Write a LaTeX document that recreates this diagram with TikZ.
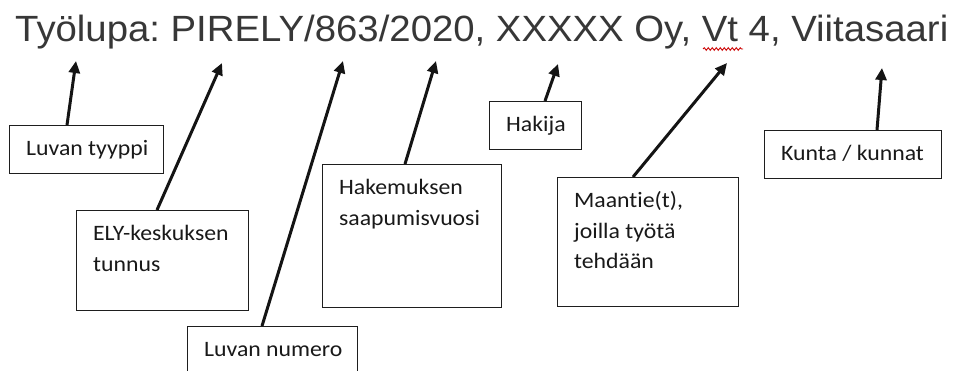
\documentclass[tikz,border=0pt]{standalone}
\usepackage{fontspec}
\setmainfont{Carlito}[Ligatures=NoCommon, FakeStretch=1.08]
\newfontfamily\titlefont{Liberation Sans}[FakeStretch=1.05]
\usetikzlibrary{arrows.meta,calc,decorations.pathmorphing}
\definecolor{titlegray}{RGB}{55,55,55}
\definecolor{boxline}{RGB}{30,30,30}
\newcommand{\boxtext}[3]{\parbox[t][#1][t]{#2}{\raggedright\leftskip=16.5pt\fontsize{22}{30.5}\selectfont\rule{0pt}{30pt}#3\par}}
\tikzset{
  infobox/.style={draw=boxline, line width=1.3pt, inner sep=0pt, anchor=north west, text=black!90},
  pointer/.style={line width=3pt, -{Triangle[length=12pt,width=11pt]}, black!92},
}
\begin{document}
\frenchspacing
\begin{tikzpicture}[x=1pt,y=-1pt]
\clip (0,0) rectangle (953,371);
\fill[white] (0,0) rectangle (953,371);
\node[anchor=base west, inner sep=0pt, text=titlegray, font=\titlefont\fontsize{36.5}{40}\selectfont] (title) at (15,42) {Työlupa: PIRELY/863/2020, XXXXX Oy, Vt 4, Viitasaari};
\draw[red!80!black, line width=0.9pt, decorate, decoration={snake, amplitude=1.3pt, segment length=4pt}] (703,49) -- (743,49);

\node[infobox] (ty) at (9,125) {\boxtext{48pt}{154pt}{Luvan tyyppi}};
\node[infobox] (ely) at (76,210) {\boxtext{100pt}{172pt}{ELY-keskuksen\\tunnus}};
\node[infobox] (num) at (187,326) {\boxtext{80pt}{170pt}{Luvan numero}};
\node[infobox] (hak) at (322,164) {\boxtext{143pt}{179pt}{Hakemuksen\\saapumisvuosi}};
\node[infobox] (hk) at (489,101) {\boxtext{48pt}{92pt}{Hakija}};
\node[infobox] (mt) at (557,177) {\boxtext{129pt}{181pt}{Maantie(t),\\joilla työtä\\tehdään}};
\node[infobox] (ku) at (764,130) {\boxtext{48pt}{177pt}{Kunta / kunnat}};

\coordinate (t1) at (76,61);
\coordinate (t2) at (222,63);
\coordinate (t3) at (343,61);
\coordinate (t4) at (436,61);
\coordinate (t5) at (558,64);
\coordinate (t6) at (727,63);
\coordinate (t7) at (882,68);

\draw[pointer] ($(ty.north west)+(58,0)$) -- (t1);
\draw[pointer] ($(ely.north west)+(81,0)$) -- (t2);
\draw[pointer] ($(num.north west)+(75,0)$) -- (t3);
\draw[pointer] ($(hak.north west)+(83,0)$) -- (t4);
\draw[pointer] ($(hk.north west)+(56,0)$) -- (t5);
\draw[pointer] ($(mt.north west)+(76,0)$) -- (t6);
\draw[pointer] ($(ku.north west)+(113,0)$) -- (t7);
\end{tikzpicture}
\end{document}
